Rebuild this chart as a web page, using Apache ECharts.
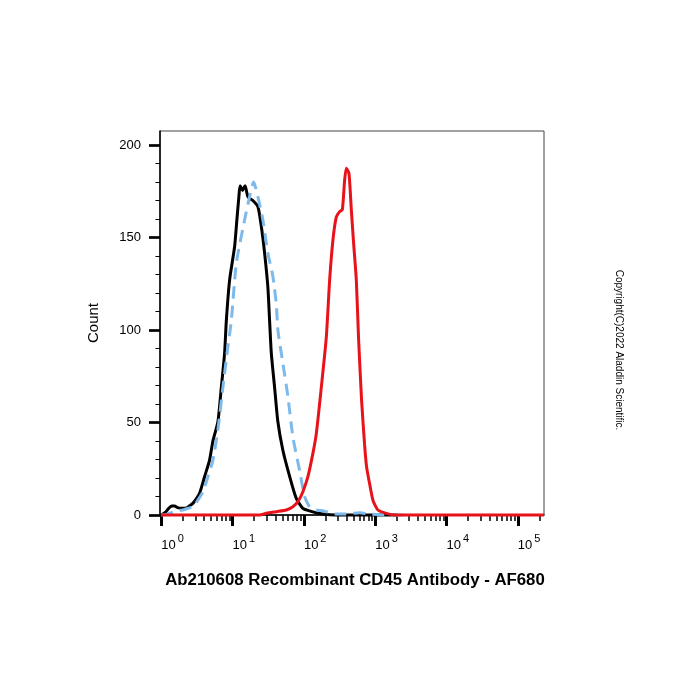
<!DOCTYPE html>
<html><head><meta charset="utf-8">
<script src="https://cdn.jsdelivr.net/npm/echarts@6/dist/echarts.min.js"></script>
<style>html,body{margin:0;padding:0;background:#fff}#c{width:700px;height:700px}</style>
</head><body><div id="c"></div>
<script>
// x values are log10(fluorescence intensity); y values are event counts
const xDecades = [0, 1, 2, 3, 4, 5];
const yTicks = [0, 50, 100, 150, 200];
const yMinorTicks = [10,20,30,40,60,70,80,90,110,120,130,140,160,170,180,190];
const xMin = -0.018, xMax = 5.367;
const yMax = 207.6;

const blackSeries = [
  [0.000,0],[0.060,1.5],[0.102,3.5],[0.144,4.9],[0.187,4.9],[0.229,4.0],[0.285,3.6],[0.355,3.8],
  [0.397,5],[0.443,6.3],[0.495,9],[0.537,11.7],[0.607,20.7],[0.677,29.7],[0.724,40],[0.794,50.4],
  [0.842,69],[0.888,87.5],[0.912,105],[0.958,127],[1.028,145],[1.060,159.5],[1.088,172],[1.105,178],
  [1.140,175.5],[1.175,178],[1.215,172],[1.285,170],[1.355,166.6],[1.403,156],[1.449,141.6],
  [1.495,123],[1.519,105],[1.543,87.5],[1.589,69],[1.635,50.4],[1.705,35],[1.799,21],[1.893,9],
  [1.986,3.6],[2.080,2.2],[2.174,1.2],[2.266,0.5],[2.361,0.2],[2.5,0],[3.3,0]
];
const blueSeries = [
  [0.000,0],[0.070,0.3],[0.187,1.8],[0.327,3],[0.443,4.5],[0.513,8],[0.583,12.6],[0.654,20.7],
  [0.724,29.7],[0.794,46],[0.864,69],[0.934,91],[0.982,105],[1.052,136],[1.168,159.5],[1.238,172],
  [1.295,180],[1.355,172],[1.425,159.5],[1.495,141.5],[1.565,129],[1.613,114],[1.635,100],
  [1.705,82],[1.776,64],[1.846,42],[1.940,24],[2.010,10],[2.080,4.5],[2.174,2.7],[2.266,2.3],
  [2.361,1.2],[2.454,0.5],[2.571,0.5],[2.669,0.8],[2.781,1.2],[2.921,0.5],[3.061,0.1],[3.2,0],[3.4,0]
];
const redSeries = [
  [0.000,0],[1.379,0],[1.473,0.9],[1.613,1.8],[1.753,2.7],[1.846,4.5],[1.916,7.2],[1.986,12.6],
  [2.056,20.7],[2.126,33.3],[2.174,44],[2.244,69],[2.314,96],[2.361,127],[2.407,148.6],[2.454,161],
  [2.501,164],[2.539,165],[2.571,181],[2.595,187.4],[2.632,184.7],[2.665,165],[2.697,147],
  [2.735,127],[2.767,95],[2.809,62],[2.851,38],[2.879,26],[2.921,17],[2.968,8],[3.038,2.7],
  [3.156,0.9],[3.272,0],[5.367,0]
];

const xMinorTicks = [];
xDecades.forEach(d => { for (let k = 2; k <= 9; k++) { const v = d + Math.log10(k); if (v <= xMax) xMinorTicks.push(v); } });

const FONT = 'Liberation Sans, Arial, sans-serif';
const chart = echarts.init(document.getElementById('c'));
chart.setOption({
  animation: false,
  backgroundColor: '#fff',
  grid: { left: 160, right: 156, top: 131, bottom: 185, show: true, borderColor: '#444', borderWidth: 1 },
  xAxis: [
    {
      type: 'value', min: xMin, max: xMax, position: 'bottom',
      name: 'Ab210608 Recombinant CD45 Antibody - AF680', nameLocation: 'middle', nameGap: 57,
      nameTextStyle: { fontSize: 16.8, fontWeight: 'bold', color: '#000', fontFamily: FONT, padding: [0, 0, 0, 6] },
      axisLine: { show: true, onZero: false, lineStyle: { color: '#000', width: 1.5 } },
      axisTick: { show: true, customValues: xDecades, length: 11, lineStyle: { color: '#000', width: 3 } },
      axisLabel: {
        customValues: xDecades, align: 'left', margin: 18, color: '#000', fontFamily: FONT,
        formatter: v => '{b|10}{s|' + Math.round(v) + '}',
        rich: { b: { fontSize: 13, fontFamily: FONT, color: '#000', padding: [6, 0, 0, 0] },
                s: { fontSize: 11, fontFamily: FONT, color: '#000', padding: [0, 0, 8, 2] } }
      },
      splitLine: { show: false }
    },
    {
      type: 'value', min: xMin, max: xMax, position: 'bottom',
      axisLine: { show: false, onZero: false },
      axisTick: { show: true, customValues: xMinorTicks, length: 6, lineStyle: { color: '#000', width: 1.5 } },
      axisLabel: { show: false }, splitLine: { show: false }
    }
  ],
  yAxis: [
    {
      type: 'value', min: 0, max: yMax, position: 'left',
      name: 'Count', nameLocation: 'middle', nameGap: 59, nameRotate: 90,
      nameTextStyle: { fontSize: 15, color: '#000', fontFamily: FONT },
      axisLine: { show: true, onZero: false, lineStyle: { color: '#000', width: 1.5 } },
      axisTick: { show: true, customValues: yTicks, length: 11, lineStyle: { color: '#000', width: 2.7 } },
      axisLabel: { customValues: yTicks, margin: 19, fontSize: 13, color: '#000', fontFamily: FONT },
      splitLine: { show: false }
    },
    {
      type: 'value', min: 0, max: yMax, position: 'left',
      axisLine: { show: false, onZero: false },
      axisTick: { show: true, customValues: yMinorTicks, length: 4.5, lineStyle: { color: '#000', width: 1 } },
      axisLabel: { show: false }, splitLine: { show: false }
    }
  ],
  series: [
    { type: 'line', data: blackSeries, showSymbol: false, clip: false, smooth: 0.2,
      lineStyle: { color: '#000', width: 3 } },
    { type: 'line', data: blueSeries, showSymbol: false, clip: false, smooth: 0.2,
      lineStyle: { color: '#7DB9EA', width: 3, type: [12, 7] } },
    { type: 'line', data: redSeries, showSymbol: false, clip: false, smooth: 0.2,
      lineStyle: { color: '#E8131A', width: 3 } }
  ],
  graphic: [
    { type: 'text', x: 619, y: 350, rotation: -Math.PI / 2,
      style: { text: 'Copyright(C)2022 Aladdin Scientific.', font: '10px ' + FONT, fill: '#000',
               align: 'center', verticalAlign: 'middle' } }
  ]
});
</script>
</body></html>
